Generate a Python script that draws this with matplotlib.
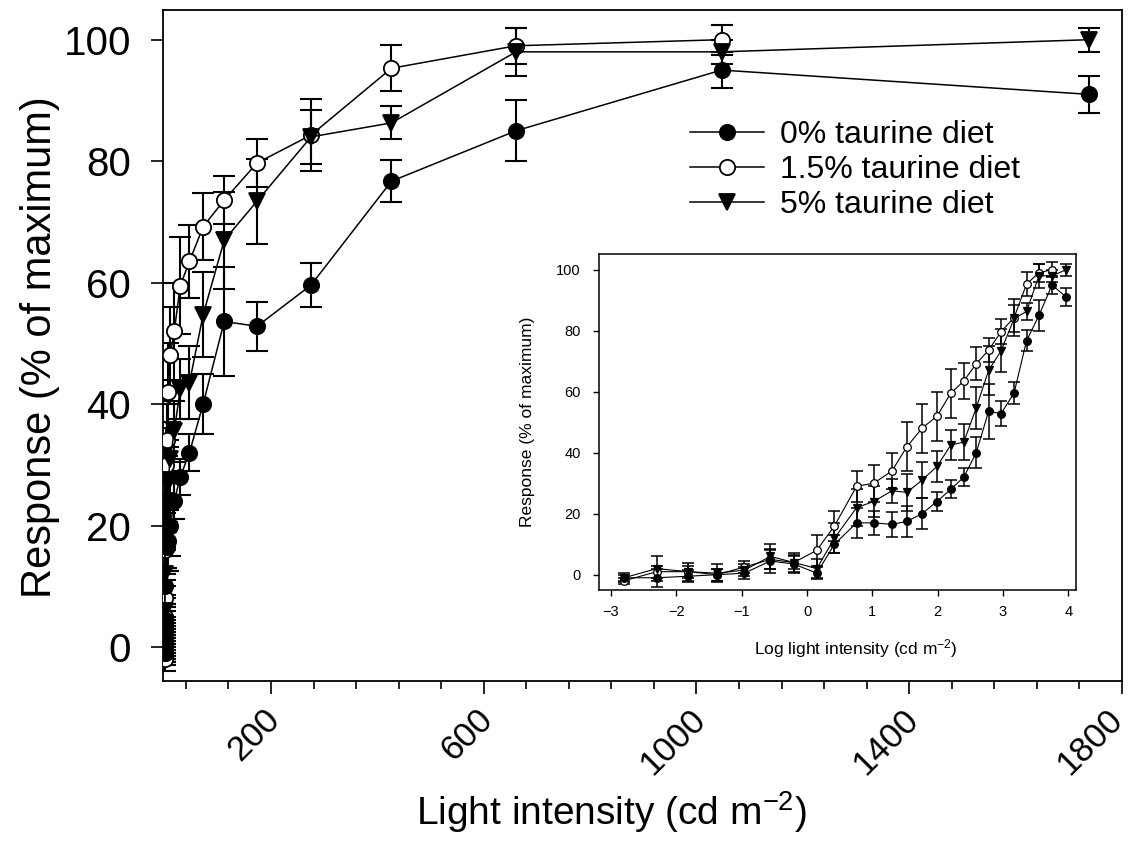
import numpy as np
import matplotlib
matplotlib.use("Agg")
from matplotlib import pyplot as plt
from matplotlib.lines import Line2D
from matplotlib.transforms import ScaledTranslation

plt.rcParams['font.family'] = ['Liberation Sans', 'DejaVu Sans']
plt.rcParams['mathtext.fontset'] = 'custom'
plt.rcParams['mathtext.rm'] = 'Liberation Sans'
plt.rcParams['mathtext.it'] = 'Liberation Sans:italic'

# log light intensity, as read on the inset axis
log_intensity = [-2.8, -2.3, -1.82, -1.38, -0.96, -0.56, -0.2, 0.15, 0.42,
                 0.76, 1.02, 1.30, 1.53, 1.76, 1.99, 2.20, 2.40, 2.59, 2.78,
                 2.97, 3.17, 3.36, 3.55, 3.75, 3.97]
# shift between the inset log axis and the linear cd m-2 axis of the main plot
log_shift = 0.73

# 0% taurine diet
resp_0 = [-1, -1, -0.5, 0, 0.5, 4.5, 3.5, 0.5, 10, 17, 17, 16.5, 17.5, 20,
          24, 28, 32, 40, 53.6, 52.8, 59.6, 76.7, 85, 95, 91]
err_0 = [1.5, 3, 2, 2, 2, 4, 3, 2, 3, 5, 4, 4, 5, 5, 3, 3, 3, 5, 9, 4, 3.6,
         3.5, 5, 3, 3]
# 1.5% taurine diet (no point at the highest intensity)
resp_15 = [-2, 1, 1, 0, 2.5, 5, 4, 8, 16, 29, 30, 34, 42, 48, 52, 59.5, 63.5,
           69.2, 73.6, 79.7, 84.3, 95.3, 99, 100]
err_15 = [1, 2, 2, 2, 2, 3, 2, 5, 5, 5, 6, 6, 8, 8, 8, 8, 6, 5.5, 4, 4, 6,
          3.8, 3, 2.5]
# 5% taurine diet
resp_5 = [-1, 2, 1, 0.5, 1.5, 6, 4, 2, 12, 22, 24, 27.5, 27, 31, 35.5, 42.5,
          43.5, 54.7, 67, 73.4, 84, 86.3, 98, 98, 100]
err_5 = [1, 4, 3, 3, 2, 4, 3, 3, 5, 6, 5, 4, 6, 6, 5, 5, 6, 7, 8, 7, 4.5, 2.7,
         4, 2, 2]

labels = ['0% taurine diet', '1.5% taurine diet', '5% taurine diet']

log_i = np.array(log_intensity)
series = [
    # label, log x, y, err, marker, face
    (labels[1], log_i[:len(resp_15)], resp_15, err_15, 'o', 'white'),
    (labels[0], log_i, resp_0, err_0, 'o', 'black'),
    (labels[2], log_i, resp_5, err_5, 'v', 'black'),
]

fig = plt.figure(figsize=(11.35, 8.57), dpi=100)

# main plot, linear intensity
ax = fig.add_axes([0.1436, 0.2054, 0.8449, 0.783])
handles = {}
for lab, lx, y, e, m, fc in series:
    x = 10 ** (lx - log_shift)
    ax.errorbar(x, y, yerr=e, fmt='none', ecolor='black', elinewidth=1.5,
                capsize=8, capthick=1.5, zorder=2)
    ln, = ax.plot(x, y, color='black', lw=1.1, marker=m, ms=11,
                  mfc=fc, mec='black', mew=1.3, zorder=3)
    handles[lab] = ln

ax.set_xlim(-3, 1800)
ax.set_ylim(-5.6, 104.9)
ax.set_xticks([200, 600, 1000, 1400, 1800])
ax.set_xticks(np.arange(40, 1800, 80), minor=True)
ax.set_yticks(np.arange(0, 101, 20))
ax.tick_params(axis='both', which='major', direction='out', length=9,
               width=1.2, labelsize=29, top=False, right=False)
ax.tick_params(axis='y', pad=14)
ax.tick_params(axis='x', which='major', labelsize=25, pad=15)
ax.tick_params(axis='x', which='minor', direction='out', length=6, width=1.2)
xlbls = ax.get_xticklabels()
for i, lbl in enumerate(xlbls):
    lbl.set_rotation(45)
    lbl.set_ha('right')
    lbl.set_va('center')
    lbl.set_rotation_mode('anchor')
    dx = -3 if i == len(xlbls) - 1 else 3   # keep the last one inside the figure
    lbl.set_transform(lbl.get_transform()
                      + ScaledTranslation(dx / 72, 0, fig.dpi_scale_trans))
for sp in ax.spines.values():
    sp.set_linewidth(1.3)

ax.set_xlabel('Light intensity (cd m$^{-2}$)', fontsize=28)
ax.set_ylabel('Response (% of maximum)', fontsize=30)
ax.xaxis.set_label_coords(0.468, -0.162)
ax.yaxis.set_label_coords(-0.107, 0.498)

leg_h = [Line2D([], [], color='black', lw=1.1, marker=handles[l].get_marker(),
                ms=11, mfc=handles[l].get_markerfacecolor(), mec='black',
                mew=1.3) for l in labels]
ax.legend(leg_h, labels, loc='center left', bbox_to_anchor=(0.55, 0.7615),
          frameon=False, fontsize=23, handlelength=2.3, handletextpad=0.5,
          labelspacing=0.15, borderaxespad=0, borderpad=0, numpoints=1)

# inset, log intensity
ax2 = fig.add_axes([0.5274, 0.3116, 0.4202, 0.3915])
ax2.set_facecolor('white')
for lab, lx, y, e, m, fc in series:
    ax2.errorbar(lx, y, yerr=e, fmt='none', ecolor='black', elinewidth=1.1,
                 capsize=4, capthick=1.1, zorder=2)
    ax2.plot(lx, y, color='black', lw=0.8, marker=m, ms=5.5, mfc=fc,
             mec='black', mew=0.9, zorder=3)

ax2.set_xlim(-3.19, 4.11)
ax2.set_ylim(-5, 105)
ax2.set_xticks(np.arange(-3, 5, 1))
ax2.set_yticks(np.arange(0, 101, 20))
ax2.tick_params(axis='both', direction='out', length=4, width=1.0,
                labelsize=10.5, top=False, right=False)
ax2.tick_params(axis='y', pad=9)
ax2.tick_params(axis='x', pad=7)
for sp in ax2.spines.values():
    sp.set_linewidth(1.1)
ax2.set_xlabel('Log light intensity (cd m$^{-2}$)', fontsize=12.5)
ax2.set_ylabel('Response (% of maximum)', fontsize=12.5)
ax2.xaxis.set_label_coords(0.54, -0.14)
ax2.yaxis.set_label_coords(-0.133, 0.5)

fig.savefig('out.png', dpi=100)
